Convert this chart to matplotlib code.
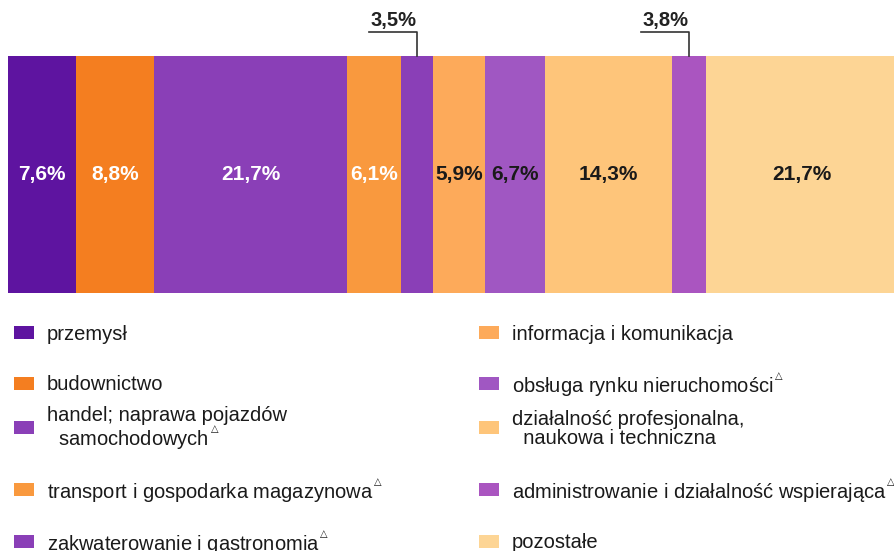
import matplotlib.pyplot as plt
from matplotlib.patches import Rectangle

plt.rcParams['font.family'] = ['Liberation Sans', 'DejaVu Sans']
plt.rcParams['mathtext.fontset'] = 'custom'
plt.rcParams['mathtext.rm'] = 'DejaVu Sans'

# ---------------------------
# dane
# ---------------------------
TRI = "$^{^{\\triangle}}$"
categories = [
    "przemysł",
    "budownictwo",
    "handel; naprawa pojazdów\n  samochodowych" + TRI,
    "transport i gospodarka magazynowa" + TRI,
    "zakwaterowanie i gastronomia" + TRI,
    "informacja i komunikacja",
    "obsługa rynku nieruchomości" + TRI,
    "działalność profesjonalna,\n  naukowa i techniczna",
    "administrowanie i działalność wspierająca" + TRI,
    "pozostałe",
]
shares = [7.6, 8.8, 21.7, 6.1, 3.5, 5.9, 6.7, 14.3, 3.8, 21.7]
value_labels = ["7,6%", "8,8%", "21,7%", "6,1%", "3,5%", "5,9%", "6,7%", "14,3%", "3,8%", "21,7%"]
colors = ["#5E14A0", "#F47E20", "#8A3FB7", "#F9993E", "#8A3FB7",
          "#FDAA5A", "#A057C2", "#FEC57A", "#AA55C0", "#FDD595"]
white_text = [True, True, True, True, False, False, False, False, False, False]
outside = [False, False, False, False, True, False, False, False, True, False]

W, H = 894, 551
fig = plt.figure(figsize=(W / 100, H / 100), dpi=100)

def fx(px):
    return px / W

def fy(py):
    return 1 - py / H

# ---------------------------
# pasek (prawa krawędź lekko ucięta jak w oryginale)
# ---------------------------
total = sum(shares)
ax = fig.add_axes([fx(8), fy(293), fx(total * 8.9), (293 - 56) / H])
left = 0
for val, lab, col, wt, out in zip(shares, value_labels, colors, white_text, outside):
    ax.barh(0, val, left=left, height=1, color=col, linewidth=0)
    cx = left + val / 2
    if out:
        ly = 0.5 + 24 / 237
        ax.plot([cx - 5.4, cx, cx], [ly, ly, 0.5], color="#333333", lw=1.2, clip_on=False)
        ax.text(cx, ly + 0.01, lab, ha="right", va="bottom", fontsize=14.5,
                fontweight="bold", color="#222222")
    else:
        ax.text(cx, 0, lab, ha="center", va="center", fontsize=15,
                fontweight="bold", color="white" if wt else "#1a1a1a")
    left += val

ax.set_xlim(0, total)
ax.set_ylim(-0.5, 0.5)
ax.axis("off")

# ---------------------------
# legenda
# ---------------------------
row_y = [332, 383, 427, 489, 541]
for i, (cat, col) in enumerate(zip(categories, colors)):
    col_i = i // 5
    r = i % 5
    sx = 14 if col_i == 0 else 479
    tx = 47 if col_i == 0 else 512
    yc = row_y[r]
    fig.patches.append(Rectangle((fx(sx), fy(yc + 6.5)), fx(20), 13 / H,
                                 transform=fig.transFigure, color=col, lw=0))
    fig.text(fx(tx), fy(yc + 2), cat, ha="left", va="center", fontsize=14.5,
             color="#1a1a1a", linespacing=1.0)

fig.savefig("out.png", dpi=100)
